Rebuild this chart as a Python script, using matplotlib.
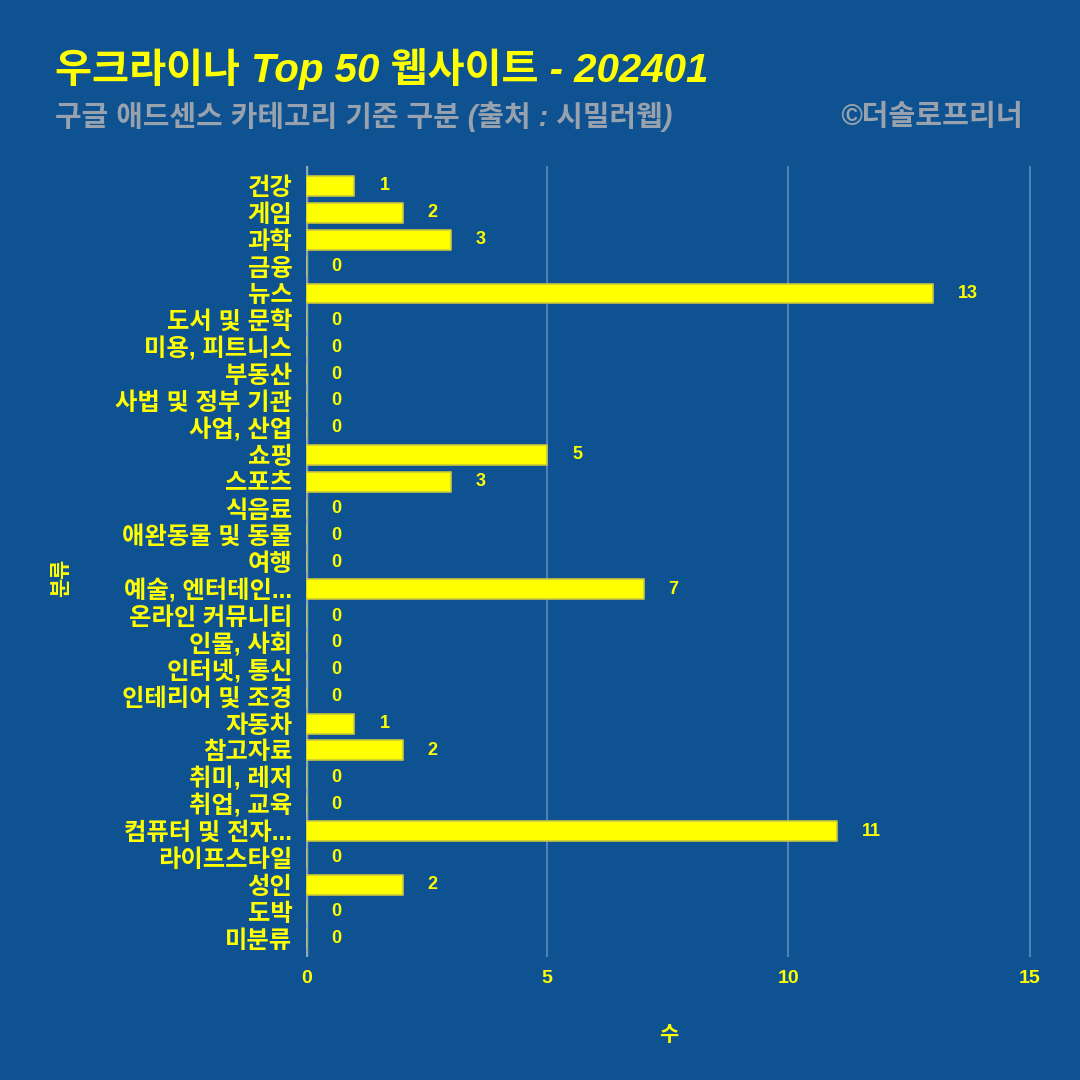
import matplotlib
matplotlib.use('Agg')
import matplotlib.pyplot as plt

plt.rcParams['font.family'] = ['Liberation Sans', 'Noto Sans CJK KR', 'DejaVu Sans']

categories = ['건강', '게임', '과학', '금융', '뉴스', '도서 및 문학', '미용, 피트니스', '부동산',
              '사법 및 정부 기관', '사업, 산업', '쇼핑', '스포츠', '식음료', '애완동물 및 동물', '여행',
              '예술, 엔터테인...', '온라인 커뮤니티', '인물, 사회', '인터넷, 통신', '인테리어 및 조경',
              '자동차', '참고자료', '취미, 레저', '취업, 교육', '컴퓨터 및 전자...', '라이프스타일',
              '성인', '도박', '미분류']
counts = [1, 2, 3, 0, 13, 0, 0, 0, 0, 0, 5, 3, 0, 0, 0, 7, 0, 0, 0, 0, 1, 2, 0, 0, 11, 0, 2, 0, 0]
xticks = [0, 5, 10, 15]

bg = '#0E5291'
yellow = '#FFFF00'
grey = '#98A2AE'

fig = plt.figure(figsize=(10.8, 10.8), dpi=100, facecolor=bg)
ax = fig.add_axes([0.2835, 0.1135, 0.672, 0.733], facecolor=bg)

pos = list(range(len(categories)))
ax.barh(pos, counts, height=0.74, color=yellow, edgecolor='#C8C83C',
        linewidth=1.2, joinstyle='round', zorder=3)

for p, v in zip(pos, counts):
    ax.annotate(str(v), (v, p), xytext=(18, 0), textcoords='offset points',
                ha='left', va='center', color=yellow, fontsize=13, fontweight='bold')

ax.set_ylim(len(categories) - 0.3, -0.75)
ax.set_xlim(0, 15.05)
ax.set_xticks(xticks)
ax.set_xticklabels([str(t) for t in xticks])
ax.set_yticks(pos)
ax.set_yticklabels(categories)
ax.tick_params(axis='y', length=0, pad=10, labelsize=17.5, labelcolor=yellow)
ax.tick_params(axis='x', length=0, pad=9, labelsize=14, labelcolor=yellow)
for lbl in ax.get_xticklabels() + ax.get_yticklabels():
    lbl.set_fontweight('bold')

ax.grid(axis='x', color='#4F80B6', linewidth=1.5, zorder=0)
ax.axvline(0, color='#8FA6B8', linewidth=2.5, zorder=2)
for s in ax.spines.values():
    s.set_visible(False)

ax.set_xlabel('수', color=yellow, fontsize=15, fontweight='bold', labelpad=28)
fig.text(0.057, 0.465, '분류', color=yellow, fontsize=15, fontweight='bold',
         rotation=90, ha='center', va='center')

fig.text(0.051, 0.936, '우크라이나 Top 50 웹사이트 - 202401', color=yellow,
         fontsize=29, fontweight='bold', fontstyle='italic', ha='left', va='center')
fig.text(0.051, 0.892, '구글 애드센스 카테고리 기준 구분 (출처 : 시밀러웹)', color=grey,
         fontsize=20.8, fontweight='bold', fontstyle='italic', ha='left', va='center')
fig.text(0.947, 0.892, '©더솔로프리너', color=grey,
         fontsize=21, fontweight='bold', fontstyle='italic', ha='right', va='center')

fig.savefig('out.png', dpi=100, facecolor=bg)
